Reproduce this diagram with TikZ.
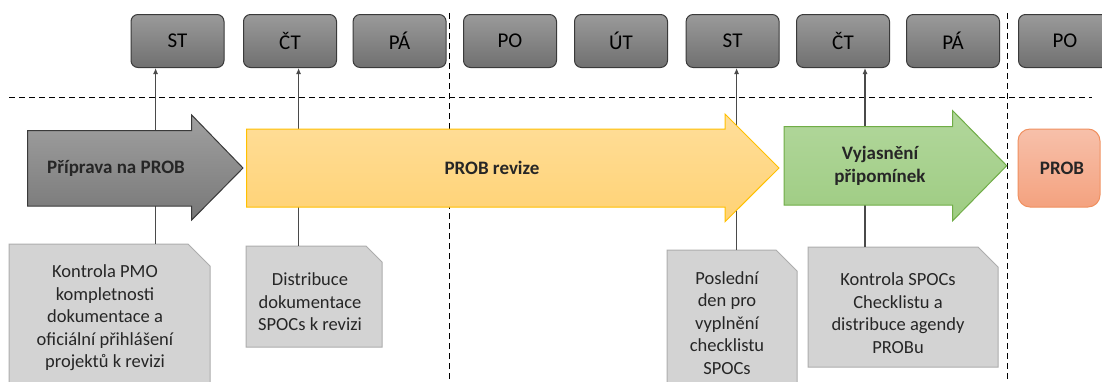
\documentclass[tikz,border=0pt]{standalone}
\usepackage{fontspec}
\setmainfont{Carlito}
\usetikzlibrary{arrows.meta}

\definecolor{dayTop}{HTML}{9A9A9A}
\definecolor{dayBot}{HTML}{707070}
\definecolor{dayLine}{HTML}{3A3A3A}
\definecolor{grayTop}{HTML}{A0A0A0}
\definecolor{grayBot}{HTML}{787878}
\definecolor{yelTop}{HTML}{FFDE9A}
\definecolor{yelBot}{HTML}{FFD274}
\definecolor{yelLine}{HTML}{FFC000}
\definecolor{grnTop}{HTML}{B2D79C}
\definecolor{grnBot}{HTML}{9ECC82}
\definecolor{grnLine}{HTML}{70AD47}
\definecolor{redTop}{HTML}{F7C0AA}
\definecolor{redBot}{HTML}{F4A27F}
\definecolor{redLine}{HTML}{F0905F}
\definecolor{noteFill}{HTML}{D3D3D3}
\definecolor{noteLine}{HTML}{ADADAD}
\definecolor{txt}{HTML}{262626}
\definecolor{wire}{HTML}{4A4A4A}

\tikzset{
  x=1pt, y=-1pt,
  daybox/.style={draw=dayLine, line width=1pt, rounded corners=7pt,
    top color=dayTop, bottom color=dayBot, minimum width=93pt,
    minimum height=53pt, anchor=north west, inner sep=0pt,
    font=\fontsize{21}{24}\selectfont, text=black},
  notefill/.style={fill=noteFill, draw=noteLine, line width=1pt},
  notetext/.style={align=center, text=txt, inner sep=0pt,
    font=\fontsize{18.5}{22.5}\selectfont},
  phasetext/.style={align=center, text=txt, inner sep=0pt,
    font=\bfseries\fontsize{19}{23}\selectfont},
  wireline/.style={draw=wire, line width=1.1pt},
  guide/.style={draw=black, line width=1pt, dash pattern=on 6pt off 4pt},
}

\newcommand\snipnote[6]{% name, x1, y1, x2, y2, cut
  \coordinate (#1) at ({(#2+#4)/2},#3);
  \path[notefill] (#2,#5) -- (#2,#3) -- ({#4-#6},#3) -- (#4,{#3+#6}) -- (#4,#5) -- cycle;
}

\begin{document}
\begin{tikzpicture}
\clip (0,0) rectangle (1102,381);
\fill[white] (0,0) rectangle (1102,381);

% weekday boxes
\node[daybox] (d1) at (130.5,14) {ST};
\node[daybox] (d2) at (243,14) {ČT};
\node[daybox] (d3) at (352.6,14) {PÁ};
\node[daybox] (d4) at (463,14) {PO};
\node[daybox] (d5) at (574,14) {ÚT};
\node[daybox] (d6) at (685.6,14) {ST};
\node[daybox] (d7) at (796,14) {ČT};
\node[daybox] (d8) at (906,14) {PÁ};
\node[daybox] (d9) at (1018,14) {PO};

% week separators and the timeline guide
\coordinate (g1) at (9,97);
\coordinate (g2) at (1092,97);
\coordinate (w1) at (449,13);
\coordinate (w2) at (1007,13);
\draw[guide] (g1) -- (g2);
\draw[guide] (w1) -- (w1 |- 0,385);
\draw[guide] (w2) -- (w2 |- 0,385);

% milestone notes
\snipnote{n1}{9}{244}{210}{395}{22}
\snipnote{n2}{246}{246}{382}{347}{16}
\snipnote{n3}{667}{250}{797}{395}{21}
\snipnote{n4}{808}{247}{998}{367}{20}

% connectors from notes to weekdays
\coordinate (l1) at (155.6,0);
\coordinate (l2) at (298.6,0);
\coordinate (l3) at (736.6,0);
\coordinate (l4) at (865,0);
\draw[wireline, -{Latex[length=6pt,width=5pt]}] (l1 |- n1) -- (l1 |- d1.south);
\draw[wireline, -{Latex[length=6pt,width=5pt]}] (l2 |- n2) -- (l2 |- d2.south);
\draw[wireline, -{Latex[length=6pt,width=5pt]}] (l3 |- n3) -- (l3 |- d6.south);
\draw[wireline, -{Latex[length=6pt,width=5pt]}] (l4 |- n4) -- (l4 |- d7.south);

% phase arrows
\path[draw=dayLine, line width=1pt, top color=grayTop, bottom color=grayBot]
  (27.7,130.7) -- (191.7,130.7) -- (191.7,115) -- (243,168) -- (191.7,220)
  -- (191.7,206) -- (27.7,206) -- cycle;
\path[draw=yelLine, line width=1pt, top color=yelTop, bottom color=yelBot]
  (246.7,129) -- (725,129) -- (725,114) -- (779,168) -- (725,221.7)
  -- (725,207) -- (246.7,207) -- cycle;
\path[draw=grnLine, line width=1pt, top color=grnTop, bottom color=grnBot]
  (784,126.7) -- (952.7,126.7) -- (952.7,110.7) -- (1006.7,165.7)
  -- (952.7,220.7) -- (952.7,205) -- (784,205) -- cycle;
\path[draw=redLine, line width=1pt, rounded corners=12pt,
  top color=redTop, bottom color=redBot]
  (1018,129) rectangle (1100,207);

\node[phasetext] (p1) at (116,168) {Příprava na PROB};
\node[phasetext] (p2) at (492,168) {PROB revize};
\node[phasetext] (p3) at (880,166) {Vyjasnění\\připomínek};
\node[phasetext] (p4) at (1062,168) {PROB};

% note texts
\node[notetext] (t1) at (105,318) {Kontrola PMO\\kompletnosti\\dokumentace a\\oficiální přihlášení\\projektů k revizi};
\node[notetext] (t2) at (310,302) {Distribuce\\dokumentace\\SPOCs k revizi};
\node[notetext] (t3) at (727,323) {Poslední\\den pro\\vyplnění\\checklistu\\SPOCs};
\node[notetext] (t4) at (898,313) {Kontrola SPOCs\\Checklistu a\\distribuce agendy\\PROBu};
\end{tikzpicture}
\end{document}
